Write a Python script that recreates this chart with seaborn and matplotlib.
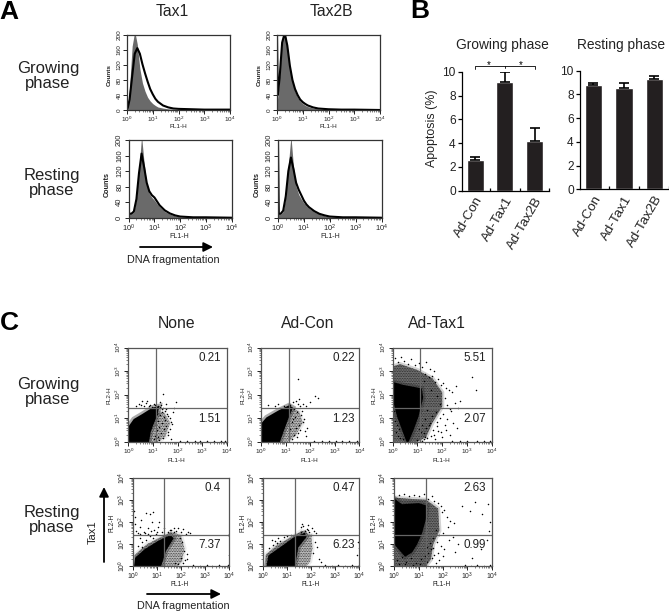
import numpy as np
import matplotlib
matplotlib.use('Agg')
import matplotlib.pyplot as plt
from matplotlib.ticker import NullFormatter, LogLocator
import seaborn as sns

sns.set_theme(style='white')
plt.rcParams['font.family'] = ['Liberation Sans', 'DejaVu Sans']
plt.rcParams['mathtext.fontset'] = 'custom'
plt.rcParams['mathtext.rm'] = 'Liberation Sans'
plt.rcParams['mathtext.default'] = 'rm'
plt.rcParams['hatch.linewidth'] = 0.4

# Panel A histograms, x is log10(FL1-H), y is counts
hist_x = [0, 0.03, 0.1, 0.2, 0.3, 0.4, 0.5, 0.6, 0.7, 0.8, 0.9, 1.0, 1.1, 1.2, 1.4, 1.6, 1.8, 2.0, 2.5, 3.0, 4.0]
tax1_grow_fill = [4, 10, 60, 170, 210, 175, 110, 72, 50, 34, 24, 17, 12, 8, 5, 3, 2, 1, 1, 0, 0]
tax1_grow_line = [3, 6, 28, 90, 150, 165, 150, 122, 98, 76, 56, 42, 30, 22, 12, 7, 4, 3, 2, 1, 1]
tax2b_grow_fill = [100, 30, 90, 185, 210, 170, 115, 75, 50, 34, 24, 17, 12, 9, 5, 3, 2, 1, 1, 0, 0]
tax2b_grow_line = [200, 40, 85, 180, 205, 172, 118, 80, 56, 40, 28, 21, 16, 12, 7, 4, 3, 2, 1, 1, 0]
tax1_rest_fill = [10, 8, 9, 15, 50, 125, 210, 140, 85, 62, 52, 45, 36, 28, 16, 9, 5, 2, 1, 0, 0]
tax1_rest_line = [18, 10, 10, 16, 48, 115, 165, 130, 90, 68, 58, 52, 42, 32, 19, 11, 6, 3, 1, 1, 0]
tax2b_rest_fill = [60, 8, 9, 16, 55, 135, 210, 130, 80, 60, 48, 38, 30, 24, 15, 9, 5, 2, 1, 0, 0]
tax2b_rest_line = [200, 10, 10, 18, 55, 120, 155, 125, 90, 72, 58, 44, 34, 27, 17, 10, 6, 3, 1, 1, 0]
hist_ticks = [0, 40, 80, 120, 160, 200]

# Panel B bars
bar_labels = ['Ad-Con', 'Ad-Tax1', 'Ad-Tax2B']
grow_apoptosis = [2.58, 9.13, 4.17]
grow_err = [0.28, 0.87, 1.06]
rest_apoptosis = [8.82, 8.57, 9.30]
rest_err = [0.14, 0.42, 0.28]
apoptosis_ticks = [0, 2, 4, 6, 8, 10]
bracket_y = 10.45

# Panel C, all in decades of FL1-H / FL2-H
none_grow_core_x = [0, 0, 0.25, 0.59, 1.0, 1.21, 1.14, 0.97, 0.87, 0.8]
none_grow_core_y = [0, 0.56, 0.93, 1.14, 1.41, 1.46, 1.14, 0.71, 0.42, 0]
none_grow_halo_x = [0.8, 0.95, 1.15, 1.45, 1.7, 1.5, 1.2]
none_grow_halo_y = [0, 0.7, 1.3, 1.25, 0.8, 0.2, 0]
none_grow_dots_x = [0.3, 0.42, 0.5, 0.55, 0.62, 0.7, 0.78, 0.85, 0.9, 0.96, 1.05, 1.1, 1.2, 1.27, 1.33, 1.38, 1.42, 1.48, 1.53, 1.58, 1.63, 1.68, 1.72, 1.76, 1.3, 1.22, 1.16, 1.1, 1.05, 1.25, 1.36, 1.46, 1.5, 1.6, 1.41, 1.2, 1.31, 1.45, 1.12, 1.17, 1.43, 1.95, 1.85, 1.55, 1.28, 1.82, 2.1, 2.4, 2.7, 2.9, 3.2, 3.5, 3.75, 3.95, 1.7, 1.35, 1.55, 1.62, 1.74, 1.24]
none_grow_dots_y = [1.5, 1.6, 1.55, 1.72, 1.52, 1.65, 1.75, 1.5, 1.58, 1.48, 1.6, 1.55, 1.52, 1.48, 1.55, 1.38, 1.42, 1.3, 1.4, 1.2, 1.1, 1.0, 0.85, 0.75, 1.15, 0.9, 0.5, 0.25, 0.1, 0.62, 0.8, 0.55, 0.92, 0.4, 0.15, 0.2, 0.35, 1.05, 0.7, 1.18, 2.05, 1.68, 1.45, 1.62, 1.7, 1.25, 0.03, 0.02, 0.03, 0.02, 0.03, 0.02, 0.03, 0.02, 0.55, 1.25, 0.68, 0.3, 0.12, 0.08]
adcon_grow_core_x = [0, 0, 0.25, 0.73, 1.14, 1.25, 1.05, 0.87, 0.73]
adcon_grow_core_y = [0, 0.7, 1.0, 1.29, 1.5, 1.43, 0.93, 0.42, 0]
adcon_grow_halo_x = [0.73, 0.95, 1.2, 1.55, 1.7, 1.4, 1.1]
adcon_grow_halo_y = [0, 0.8, 1.45, 1.3, 0.8, 0.25, 0]
adcon_grow_dots_x = [0.3, 0.55, 0.68, 0.95, 1.12, 1.2, 1.3, 1.42, 1.5, 1.55, 1.6, 1.72, 1.85, 1.98, 2.2, 2.3, 1.52, 1.35, 1.45, 1.62, 1.68, 1.75, 1.28, 1.18, 1.35, 1.42, 1.55, 1.12, 1.25, 1.4, 1.6, 1.5, 1.32, 1.48, 1.82, 1.88, 2.15, 2.5, 2.75, 3.05, 3.3, 3.6, 3.9, 1.7, 1.78]
adcon_grow_dots_y = [1.55, 1.5, 1.6, 1.52, 1.62, 1.55, 1.68, 1.72, 1.6, 1.8, 1.5, 1.62, 1.52, 1.7, 1.95, 1.85, 2.65, 1.4, 1.25, 1.15, 1.32, 0.95, 0.82, 0.55, 0.3, 0.6, 0.72, 0.2, 0.12, 1.05, 0.5, 0.35, 0.95, 0.18, 0.25, 0.6, 0.03, 0.02, 0.03, 0.02, 0.03, 0.02, 0.03, 0.82, 0.45]
tax1_grow_core_x = [0.6, 0.22, 0.08, 0, 0, 0.39, 1.14, 1.19, 1.0, 0.8]
tax1_grow_core_y = [0, 1.07, 1.65, 2.2, 2.5, 2.38, 2.23, 1.87, 1.07, 0.5]
tax1_grow_halo_x = [0, 0, 0.3, 1.0, 1.6, 2.0, 2.0, 1.6, 1.35, 1.0]
tax1_grow_halo_y = [0, 3.2, 3.3, 3.05, 2.7, 2.1, 1.5, 0.8, 0.2, 0]
tax1_grow_dots_x = [0.1, 0.2, 0.32, 0.45, 0.6, 0.75, 0.9, 1.05, 1.2, 1.35, 1.5, 1.65, 1.3, 1.45, 1.6, 1.72, 1.85, 1.95, 2.05, 2.15, 2.28, 2.4, 2.55, 2.7, 1.25, 1.55, 1.8, 1.9, 2.1, 2.2, 2.35, 2.5, 2.65, 3.2, 3.35, 1.4, 1.6, 1.75, 1.9, 2.05, 2.2, 2.3, 2.45, 2.6, 1.3, 1.45, 1.62, 1.78, 1.95, 2.12, 2.3, 1.25, 1.4, 1.55, 1.7, 1.85, 2.0, 2.15, 1.2, 1.35, 1.5, 1.65, 1.8, 0.15, 0.3, 0.1, 0.25, 0.05, 0.2, 0.18, 1.1, 1.25, 2.4, 2.7, 3.0, 3.4, 3.7, 3.95, 0.4, 0.55, 1.0, 1.15, 1.3, 1.05, 1.2]
tax1_grow_dots_y = [3.55, 3.4, 3.6, 3.45, 3.3, 3.5, 3.25, 3.35, 3.2, 3.4, 3.1, 3.0, 2.9, 2.75, 2.8, 2.55, 2.65, 2.4, 2.5, 2.3, 2.2, 2.1, 2.35, 1.75, 2.6, 2.2, 1.95, 1.6, 1.85, 1.55, 1.3, 1.65, 1.45, 2.75, 2.2, 1.35, 1.1, 1.25, 1.0, 1.2, 0.95, 1.4, 0.8, 0.6, 0.95, 0.7, 0.5, 0.85, 0.4, 0.7, 0.3, 0.35, 0.15, 0.25, 0.1, 0.45, 0.2, 0.5, 0.05, 0.6, 0.8, 0.3, 0.65, 0.4, 0.15, 0.9, 0.55, 1.3, 0.25, 0.7, 0.25, 0.12, 0.03, 0.02, 0.03, 0.02, 0.03, 0.02, 0.1, 0.3, 0.08, 0.4, 0.22, 0.55, 0.7]
none_rest_core_x = [0.1, 0.14, 0.52, 1.08, 1.56, 1.65, 1.35, 1.14]
none_rest_core_y = [0, 0.35, 0.72, 1.1, 1.35, 1.25, 0.72, 0]
none_rest_halo_x = [0.1, 0.1, 0.6, 1.2, 1.6, 2.0, 2.15, 2.05, 1.85]
none_rest_halo_y = [0, 0.5, 1.0, 1.3, 1.55, 1.4, 0.8, 0.2, 0]
none_rest_dots_x = [0.05, 0.08, 0.1, 0.15, 0.3, 0.35, 0.45, 0.55, 0.62, 0.72, 0.8, 0.85, 0.9, 1.0, 1.1, 0.2, 0.3, 0.5, 0.65, 0.75, 0.95, 1.05, 1.2, 1.3, 1.45, 1.6, 1.7, 1.8, 1.9, 2.0, 2.1, 2.2, 2.3, 2.4, 0.3, 0.4, 0.55, 0.7, 0.85, 1.55, 1.7, 1.95, 2.05, 2.15, 2.25, 2.0, 2.18, 2.5, 2.8, 3.1, 3.3, 3.6, 3.95, 3.98, 3.95, 1.75, 1.9, 2.1, 2.25, 0.2, 0.4]
none_rest_dots_y = [2.5, 2.2, 1.9, 1.6, 1.75, 2.1, 1.55, 2.4, 1.7, 2.35, 2.0, 2.45, 1.65, 1.55, 2.0, 1.5, 1.45, 1.5, 1.45, 1.6, 1.45, 1.75, 1.55, 1.7, 1.55, 1.65, 1.7, 1.6, 1.72, 1.55, 1.68, 1.45, 1.55, 1.5, 1.25, 1.1, 1.2, 1.35, 1.28, 1.62, 1.52, 1.25, 1.1, 0.7, 0.55, 0.35, 0.25, 0.03, 0.02, 0.03, 0.02, 0.03, 0.03, 0.5, 1.4, 0.15, 0.08, 0.12, 0.3, 0.9, 0.85]
adcon_rest_core_x = [0.18, 0.25, 0.8, 1.28, 1.7, 1.75, 1.42, 1.28]
adcon_rest_core_y = [0, 0.45, 0.87, 1.25, 1.44, 1.32, 0.87, 0]
adcon_rest_halo_x = [0.1, 0.1, 0.6, 1.2, 1.6, 2.0, 2.05, 1.95, 1.8]
adcon_rest_halo_y = [0, 0.5, 1.0, 1.3, 1.6, 1.4, 0.8, 0.2, 0]
adcon_rest_dots_x = [0.35, 0.5, 0.62, 0.85, 1.0, 1.15, 1.55, 1.65, 1.72, 1.82, 1.92, 2.02, 2.12, 2.2, 1.58, 1.7, 1.85, 2.0, 2.15, 2.05, 2.3, 2.25, 2.4, 2.55, 2.85, 3.1, 3.4, 3.7, 3.95, 3.92, 3.98, 3.95, 0.25, 0.4, 0.55, 0.7, 1.62, 1.88]
adcon_rest_dots_y = [1.2, 1.15, 1.25, 1.3, 1.38, 1.42, 1.75, 1.8, 1.6, 1.68, 1.55, 1.72, 1.6, 1.5, 1.52, 1.48, 1.62, 1.42, 1.1, 0.6, 0.3, 0.85, 0.18, 0.03, 0.02, 0.03, 0.02, 0.03, 0.02, 0.5, 0.8, 1.1, 0.8, 0.95, 1.05, 1.15, 1.9, 1.85]
tax1_rest_core_x = [0.45, 0.04, 0, 0, 0.3, 1.0, 1.3, 1.25, 1.1, 0.9, 0.7]
tax1_rest_core_y = [0.48, 1.0, 1.37, 3.0, 2.75, 2.8, 2.7, 2.1, 1.5, 1.0, 0.65]
tax1_rest_halo_x = [0, 0, 0.5, 1.3, 1.8, 1.85, 1.6, 1.5, 1.3]
tax1_rest_halo_y = [0, 3.1, 3.05, 3.0, 2.6, 1.6, 1.0, 0.3, 0]
tax1_rest_dots_x = [0.2, 0.4, 0.6, 0.8, 1.0, 1.2, 1.4, 1.55, 1.65, 1.8, 1.9, 1.95, 2.05, 2.15, 2.3, 2.45, 2.8, 3.1, 3.3, 3.6, 3.85, 3.95, 3.9, 1.7, 1.85, 2.0, 2.2, 2.4, 2.6, 1.6, 1.75, 1.9, 2.05, 2.25, 2.5, 3.2, 3.55, 3.8, 1.45, 1.6, 1.8, 2.0, 1.35, 1.55, 1.7, 1.85, 1.4, 1.5, 1.65, 0.1, 0.3, 0.5, 0.7, 0.9, 1.1, 0.2, 0.45, 0.75, 1.05, 1.25, 1.35, 2.9, 3.15, 3.4, 3.7, 3.95]
tax1_rest_dots_y = [3.2, 3.25, 3.15, 3.22, 3.18, 3.25, 3.05, 3.15, 2.95, 2.85, 2.7, 2.45, 2.55, 2.2, 2.05, 1.95, 2.7, 2.5, 2.9, 2.35, 2.8, 2.0, 1.6, 1.65, 1.4, 1.5, 1.75, 1.3, 1.0, 1.25, 1.1, 0.9, 0.75, 1.2, 0.65, 0.35, 0.75, 1.2, 1.05, 0.8, 0.6, 0.45, 0.2, 0.35, 0.15, 0.25, 0.6, 0.75, 0.5, 0.25, 0.4, 0.2, 0.35, 0.15, 0.3, 0.1, 0.08, 0.05, 0.1, 0.45, 0.85, 0.03, 0.02, 0.03, 0.02, 0.03]
quad_grow_v = [1.11, 1.13, 1.11]
quad_rest_v = [1.3, 1.31, 1.31]
quad_grow_h = 1.43
quad_rest_h = 1.39
grow_pct = [['0.21', '1.51'], ['0.22', '1.23'], ['5.51', '2.07']]
rest_pct = [['0.4', '7.37'], ['0.47', '6.23'], ['2.63', '0.99']]
decades = [0, 1, 2, 3, 4]

W, H = 669, 613
INK = '#222222'
fig = plt.figure(figsize=(W / 100, H / 100), dpi=100)


def box(l, t, r, b):
    return fig.add_axes([l / W, 1 - b / H, (r - l) / W, (b - t) / H])


def label(x, y, s, **kw):
    kw.setdefault('color', INK)
    fig.text(x / W, 1 - y / H, s, ha=kw.pop('ha', 'center'), va='center', **kw)


def arrow(x0, y0, x1, y1):
    fig.add_artist(matplotlib.patches.FancyArrowPatch(
        (x0 / W, 1 - y0 / H), (x1 / W, 1 - y1 / H), transform=fig.transFigure,
        arrowstyle='-|>', mutation_scale=14, color='black', lw=1.3, shrinkA=0, shrinkB=0))


def decade_labels():
    return [f'$10^{{{d}}}$' for d in decades]


def log_axis(ax, which, size):
    axis = ax.xaxis if which == 'x' else ax.yaxis
    axis.set_major_locator(LogLocator(base=10, numticks=6))
    axis.set_minor_locator(LogLocator(base=10, subs=range(2, 10), numticks=6))
    axis.set_minor_formatter(NullFormatter())
    axis.set_ticks([10.0 ** d for d in decades])
    axis.set_ticklabels(decade_labels())
    ax.tick_params(axis=which, which='major', length=3, width=0.7, labelsize=size, pad=0.5, color=INK, labelcolor=INK, bottom=which == 'x', left=which == 'y')
    ax.tick_params(axis=which, which='minor', length=1.5, width=0.4, color=INK, bottom=which == 'x', left=which == 'y')


def histogram(l, t, r, b, fill, line, size):
    ax = box(l, t, r, b)
    xs = 10.0 ** np.array(hist_x)
    ax.fill_between(xs, fill, color='#6a6a6a', lw=0)
    sns.lineplot(x=xs, y=line, color='black', lw=1.5, sort=False, errorbar=None, ax=ax)
    ax.set_xscale('log')
    ax.set_xlim(1, 1e4)
    ax.set_ylim(0, 200)
    log_axis(ax, 'x', size)
    ax.set_yticks(hist_ticks)
    ax.set_yticklabels(hist_ticks, rotation=90, va='center', fontsize=size)
    ax.tick_params(axis='y', length=3, width=0.7, pad=1, left=True, color=INK, labelcolor=INK)
    for s in ax.spines.values():
        s.set_linewidth(0.9)
        s.set_color('#333333')
    return ax


def bars(l, r, t, b, values, errs):
    ax = box(l, t, r, b)
    sns.barplot(x=bar_labels, y=values, color='#231f20', saturation=1, width=0.57, ax=ax)
    ax.errorbar(range(3), values, yerr=[[0, 0, 0], errs], fmt='none', ecolor='black', elinewidth=1.2, capsize=3.5, capthick=1.2)
    ax.set_xlim(-0.444, 2.485)
    ax.set_ylim(0, 10)
    ax.set_yticks(apoptosis_ticks)
    ax.set_xticks([0.5, 1.5, 2.48], minor=True)
    ax.set_xticks(range(3))
    ax.set_xticklabels(bar_labels, rotation=60, ha='right', rotation_mode='anchor', fontsize=9.6, color=INK)
    ax.tick_params(axis='x', which='major', length=0, pad=3)
    ax.tick_params(axis='x', which='minor', direction='in', length=2.5, width=0.9, color='black', bottom=True)
    ax.tick_params(axis='y', length=3, width=0.9, labelsize=8.6, pad=1.5, left=True, color='black', labelcolor=INK)
    sns.despine(ax=ax)
    ax.spines['left'].set_linewidth(0.9)
    ax.spines['left'].set_color('black')
    ax.spines['bottom'].set_linewidth(0.9)
    ax.spines['bottom'].set_color('black')
    ax.set_ylabel('')
    return ax


def flow(l, t, r, b, core, halo, dots, vline, hline, pct, pct_right, y_up, y_low, size, tone='#bdbdbd'):
    ax = box(l, t, r, b)
    hx, hy = 10.0 ** np.array(halo[0]), 10.0 ** np.array(halo[1])
    # soft speckled fringe round the dense part
    ax.fill(hx, hy, facecolor=tone, edgecolor=tone, lw=3, alpha=0.3)
    ax.fill(hx, hy, facecolor=tone, edgecolor='#1a1a1a', hatch='..........', lw=0)
    cx, cy = 10.0 ** np.array(core[0]), 10.0 ** np.array(core[1])
    ax.fill(cx, cy, facecolor='#303030', edgecolor='#303030', lw=5, alpha=0.4)
    ax.fill(cx, cy, color='black', lw=1.5)
    sns.scatterplot(x=10.0 ** np.array(dots[0]), y=10.0 ** np.array(dots[1]), color='black', s=1.2, linewidth=0, ax=ax)
    ax.axvline(10.0 ** vline, color='#666666', lw=0.9)
    ax.axhline(10.0 ** hline, color='#666666', lw=0.9)
    ax.set_xscale('log')
    ax.set_yscale('log')
    ax.set_xlim(1, 1e4)
    ax.set_ylim(1, 1e4)
    log_axis(ax, 'x', size)
    log_axis(ax, 'y', size)
    plt.setp(ax.get_yticklabels(), rotation=90, va='center')
    for s in ax.spines.values():
        s.set_linewidth(0.9)
        s.set_color('#555555')
    label(pct_right, y_up, pct[0], fontsize=8.4, ha='right')
    label(pct_right, y_low, pct[1], fontsize=8.4, ha='right')
    return ax


# panel A
histogram(127, 35, 230, 110, tax1_grow_fill, tax1_grow_line, 4.6)
histogram(277, 35, 380, 110, tax2b_grow_fill, tax2b_grow_line, 4.6)
histogram(128.7, 140, 231.7, 217.7, tax1_rest_fill, tax1_rest_line, 5.4)
histogram(278, 140, 381.5, 217.7, tax2b_rest_fill, tax2b_rest_line, 5.4)

label(9, 12, 'A', fontsize=19, fontweight='bold', color='black')
label(172, 12, 'Tax1', fontsize=11.3)
label(331, 12, 'Tax2B', fontsize=11.3)
label(48, 76, 'Growing\nphase', fontsize=12, linespacing=0.95)
label(52, 183, 'Resting\nphase', fontsize=12, linespacing=0.95)
label(178, 127, 'FL1-H', fontsize=4.6)
label(328, 127, 'FL1-H', fontsize=4.6)
label(179, 236, 'FL1-H', fontsize=5)
label(330, 236, 'FL1-H', fontsize=5)
label(109, 75, 'Counts', fontsize=4.6, rotation=90, fontweight='bold')
label(259, 75, 'Counts', fontsize=4.6, rotation=90, fontweight='bold')
label(107, 184, 'Counts', fontsize=5.2, rotation=90, fontweight='bold')
label(257, 184, 'Counts', fontsize=5.2, rotation=90, fontweight='bold')
arrow(140, 247, 213, 247)
label(173, 260, 'DNA fragmentation', fontsize=7.8)

# panel B
ax_g = bars(462, 549, 71.7, 190.7, grow_apoptosis, grow_err)
bars(580, 669, 70.7, 189.3, rest_apoptosis, rest_err)
ax_g.plot([0, 0, 2, 2], [bracket_y - 0.2, bracket_y, bracket_y, bracket_y - 0.2], color='black', lw=0.6, clip_on=False)
ax_g.plot([1, 1], [bracket_y - 0.12, bracket_y], color='black', lw=0.6, clip_on=False)
ax_g.text(0.45, bracket_y + 0.1, '*', fontsize=7, ha='center', va='center', color='black')
ax_g.text(1.52, bracket_y + 0.1, '*', fontsize=7, ha='center', va='center', color='black')
label(420, 11, 'B', fontsize=19, fontweight='bold', color='black')
label(502, 45, 'Growing phase', fontsize=9.9)
label(621, 45, 'Resting phase', fontsize=9.9)
label(432, 128, 'Apoptosis (%)', fontsize=8.9, rotation=90)

# panel C
flow(128.3, 347.7, 226.7, 441.7, (none_grow_core_x, none_grow_core_y), (none_grow_halo_x, none_grow_halo_y), (none_grow_dots_x, none_grow_dots_y), quad_grow_v[0], quad_grow_h, grow_pct[0], 221, 357.7, 419, 4.6)
flow(261, 347.7, 359.3, 441.7, (adcon_grow_core_x, adcon_grow_core_y), (adcon_grow_halo_x, adcon_grow_halo_y), (adcon_grow_dots_x, adcon_grow_dots_y), quad_grow_v[1], quad_grow_h, grow_pct[1], 355, 357.7, 419, 4.6)
flow(392.7, 347.7, 491.7, 441.7, (tax1_grow_core_x, tax1_grow_core_y), (tax1_grow_halo_x, tax1_grow_halo_y), (tax1_grow_dots_x, tax1_grow_dots_y), quad_grow_v[2], quad_grow_h, grow_pct[2], 486, 357.7, 419, 4.6, tone='#6e6e6e')
flow(132.7, 477.7, 229, 566, (none_rest_core_x, none_rest_core_y), (none_rest_halo_x, none_rest_halo_y), (none_rest_dots_x, none_rest_dots_y), quad_rest_v[0], quad_rest_h, rest_pct[0], 221, 488, 545, 4.9)
flow(263.3, 477.7, 359.3, 566, (adcon_rest_core_x, adcon_rest_core_y), (adcon_rest_halo_x, adcon_rest_halo_y), (adcon_rest_dots_x, adcon_rest_dots_y), quad_rest_v[1], quad_rest_h, rest_pct[1], 355, 488, 545, 4.9)
flow(394.3, 477.7, 491.7, 566, (tax1_rest_core_x, tax1_rest_core_y), (tax1_rest_halo_x, tax1_rest_halo_y), (tax1_rest_dots_x, tax1_rest_dots_y), quad_rest_v[2], quad_rest_h, rest_pct[2], 486, 488, 545, 4.9, tone='#6e6e6e')

label(9, 323, 'C', fontsize=19, fontweight='bold', color='black')
label(177, 324, 'None', fontsize=11.3)
label(308, 324, 'Ad-Con', fontsize=11.3)
label(437, 324, 'Ad-Tax1', fontsize=11.3)
label(48, 392, 'Growing\nphase', fontsize=12, linespacing=0.95)
label(52, 520, 'Resting\nphase', fontsize=12, linespacing=0.95)
for x in (176, 309, 441):
    label(x, 460, 'FL1-H', fontsize=4.6)
for x in (180, 311, 442):
    label(x, 585, 'FL1-H', fontsize=4.8)
for x in (109, 243, 374):
    label(x, 395, 'FL2-H', fontsize=4.6, rotation=90)
for x in (112, 243, 374):
    label(x, 523, 'FL2-H', fontsize=4.8, rotation=90)
arrow(104, 562, 104, 487)
label(93, 532, 'Tax1', fontsize=8, rotation=90)
arrow(147, 594, 221, 594)
label(183, 606, 'DNA fragmentation', fontsize=7.8)

fig.savefig('out.png', dpi=100)
